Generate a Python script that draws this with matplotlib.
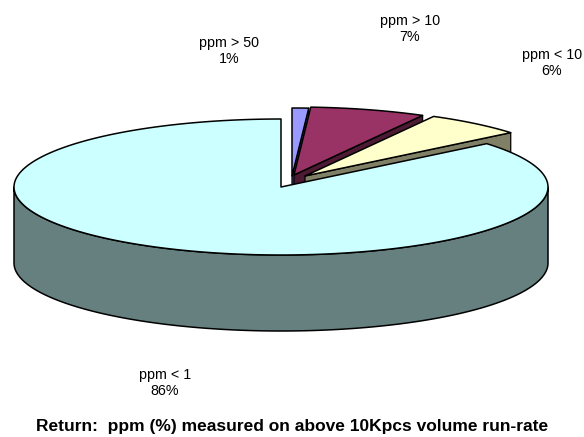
import matplotlib.pyplot as plt
import numpy as np
from matplotlib.patches import Polygon

# slices in drawing order, clockwise from 12 o'clock
labels = ['ppm > 50', 'ppm > 10', 'ppm < 10', 'ppm < 1']
shares = [1, 7, 6, 86]
title = 'Return:  ppm (%) measured on above 10Kpcs volume run-rate'

top_colors = ['#9999FF', '#993366', '#FFFFCC', '#CCFFFF']
side_colors = ['#4D4D80', '#4D1A33', '#808066', '#668080']

# pie geometry in pixels (y grows downward)
CX, CY, RX, RY, DEPTH = 281, 187, 267, 68, 76
# how far each slice is pulled out of the pie
shift = [(11, -11), (13, -12), (24, -11), (0, 0)]
# centre of each data label
label_pos = [(229, 51), (410, 29), (552, 63), (165, 383)]

plt.rcParams['font.family'] = ['Liberation Sans', 'DejaVu Sans']

fig = plt.figure(figsize=(5.84, 4.37), dpi=100)
ax = fig.add_axes([0, 0, 1, 1])
ax.set_xlim(0, 584)
ax.set_ylim(437, 0)
ax.axis('off')


def rim(t0, t1, dx=0, dy=0, drop=0, n=200):
    """points on the top rim, angles in degrees clockwise from 12 o'clock"""
    t = np.radians(np.linspace(t0, t1, n))
    return np.column_stack([CX + dx + RX * np.sin(t),
                            CY + dy - RY * np.cos(t) + drop])


def add_poly(pts, color, lw=1.0):
    ax.add_patch(Polygon(pts, closed=True, facecolor=color,
                         edgecolor='black', linewidth=lw, joinstyle='round'))


bounds = np.cumsum([0] + shares) / sum(shares) * 360

for i in range(len(shares)):
    t0, t1 = bounds[i], bounds[i + 1]
    dx, dy = shift[i]
    vertex = np.array([[CX + dx, CY + dy]])

    if t1 <= 90:
        # pulled-out slice at the back: only its clockwise cut face shows
        outer = rim(t1, t1, dx, dy, n=1)
        wall = np.vstack([vertex, outer, outer + [0, DEPTH], vertex + [0, DEPTH]])
        add_poly(wall, side_colors[i], lw=0.9)
    else:
        # front part of the cylinder wall
        front = np.vstack([rim(max(t0, 90), min(t1, 270), dx, dy),
                           rim(min(t1, 270), max(t0, 90), dx, dy, drop=DEPTH)])
        add_poly(front, side_colors[i], lw=1.1)

    top = np.vstack([vertex, rim(t0, t1, dx, dy)])
    add_poly(top, top_colors[i], lw=1.1)

for name, share, (x, y) in zip(labels, shares, label_pos):
    ax.text(x, y, f'{name}\n{share}%', ha='center', va='center',
            fontsize=10.3, linespacing=1.15)

ax.text(292, 426, title, ha='center', va='center', fontsize=12.5,
        fontweight='bold')

fig.savefig('out.png', dpi=100)
